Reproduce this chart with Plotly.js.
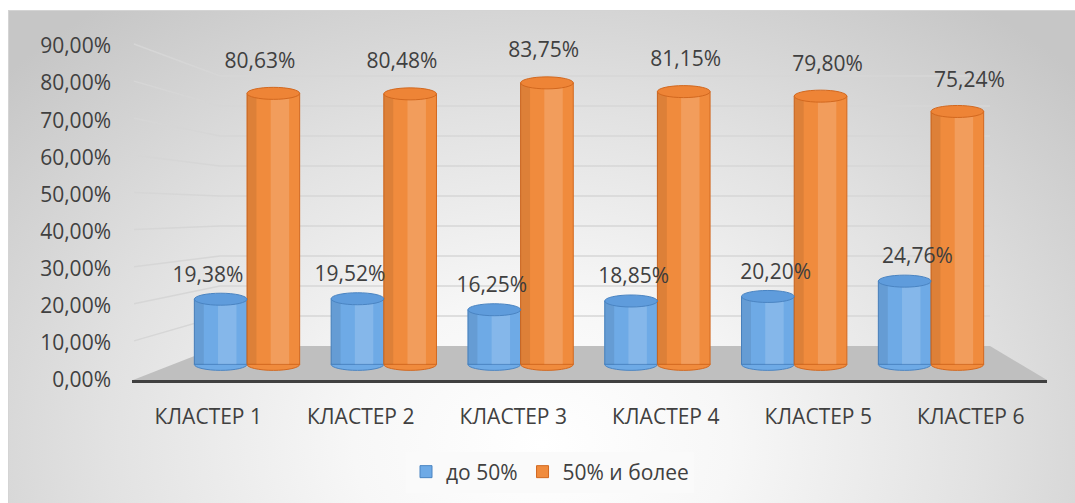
<!DOCTYPE html>
<html>
<head>
<meta charset="utf-8">
<script src="https://cdn.plot.ly/plotly-3.0.1.min.js"></script>
<style>
  html, body { margin: 0; padding: 0; background: #ffffff; }
  #wrap { position: relative; width: 1075px; height: 503px; overflow: hidden; }
  #bg { position: absolute; left: 8px; top: 10px; width: 1067px; height: 493px;
        border-left: 1px solid #d4d4d4; border-top: 1px solid #d4d4d4; box-sizing: border-box;
        background: radial-gradient(ellipse 68% 112% at 50% 88%, #ffffff 0%, #f7f7f7 26%, #e2e2e2 60%, #c6c6c6 100%); }
  #chart { position: absolute; left: 0; top: 0; width: 1075px; height: 503px; }
</style>
</head>
<body>
<div id="wrap"><div id="bg"></div><div id="chart"></div></div>
<script>
// ---- data ----
const categories = ['КЛАСТЕР 1', 'КЛАСТЕР 2', 'КЛАСТЕР 3', 'КЛАСТЕР 4', 'КЛАСТЕР 5', 'КЛАСТЕР 6'];
const seriesNames = ['до 50%', '50% и более'];
const under50 = [19.38, 19.52, 16.25, 18.85, 20.20, 24.76];
const over50 = [80.63, 80.48, 83.75, 81.15, 79.80, 75.24];
const yTicks = [0, 10, 20, 30, 40, 50, 60, 70, 80, 90];

// ---- geometry (pixels) ----
const W = 1075, H = 503;
const L = 132, R = 1047, T = 46, B = 381;
const PW = R - L, PH = B - T;

function xRange(pxAt0, pxPerUnit) { const r0 = -(pxAt0 - L) / pxPerUnit; return [r0, r0 + PW / pxPerUnit]; }
function yRange(pxAt0, pxPerUnit) { const s0 = -(B - pxAt0) / pxPerUnit; return [s0, s0 + PH / pxPerUnit]; }
const px2paperX = p => (p - L) / PW;
const px2paperY = p => (B - p) / PH;

const barX = xRange(247, 136.8);     // front row of cylinders
const barY = yRange(365.3, 3.371);
const lblX = xRange(234, 141.9);     // data label plane
const lblY = yRange(344.8, 3.5);
const backY = v => 347 - v * 3.011;  // back wall gridlines (px)
const labelYpx = v => B - v * PH / 90;

const bargap = 0.23;
const bw = (1 - bargap) / 2;
const idx = categories.map((_, i) => i);
const fmt = v => v.toFixed(2).replace('.', ',') + '%';

const blue = '#6eaae6', blueLine = '#4a84c2', blueTop = '#5f9cdc';
const orange = '#f08b3d', orangeLine = '#d2681f', orangeTop = '#ee8436';
const textColor = '#404040';
const FONT = '"Open Sans", "DejaVu Sans", sans-serif';

const traces = [
  // invisible anchor trace for the category / percent axes
  { type: 'scatter', mode: 'markers', x: idx, y: under50, xaxis: 'x', yaxis: 'y',
    marker: { opacity: 0, size: 1 }, showlegend: false, hoverinfo: 'skip' },
  { type: 'bar', name: seriesNames[0], x: idx, y: under50, xaxis: 'x2', yaxis: 'y2',
    marker: { color: blue, line: { color: blueLine, width: 1 } }, hoverinfo: 'y+name' },
  { type: 'bar', name: seriesNames[1], x: idx, y: over50, xaxis: 'x2', yaxis: 'y2',
    marker: { color: orange, line: { color: orangeLine, width: 1 } }, hoverinfo: 'y+name' },
  { type: 'scatter', mode: 'text', x: idx.map(i => i - 0.183), y: under50, xaxis: 'x3', yaxis: 'y3',
    text: under50.map(fmt), textposition: 'middle center', cliponaxis: false,
    textfont: { family: FONT, size: 21, color: textColor }, showlegend: false, hoverinfo: 'skip' },
  { type: 'scatter', mode: 'text', x: idx.map(i => i + 0.183), y: over50, xaxis: 'x3', yaxis: 'y3',
    text: over50.map(fmt), textposition: 'middle center', cliponaxis: false,
    textfont: { family: FONT, size: 21, color: textColor }, showlegend: false, hoverinfo: 'skip' }
];

const shapes = [];
// floor
shapes.push({ type: 'path', xref: 'paper', yref: 'paper', layer: 'below',
  path: `M ${px2paperX(133)} ${px2paperY(381)} L ${px2paperX(220)} ${px2paperY(347)} L ${px2paperX(990)} ${px2paperY(347)} L ${px2paperX(1047)} ${px2paperY(381)} Z`,
  fillcolor: '#bfbfbf', line: { width: 0 } });
// gridlines (front tick position -> back wall)
yTicks.forEach(t => {
  if (t === 0) return;
  shapes.push({ type: 'path', xref: 'paper', yref: 'paper', layer: 'below',
    path: `M ${px2paperX(134)} ${px2paperY(labelYpx(t) - 2)} L ${px2paperX(220)} ${px2paperY(backY(t))} L ${px2paperX(990)} ${px2paperY(backY(t))}`,
    line: { color: '#d6d6d6', width: 1.5 } });
});
// cylinder caps and shading
[[under50, -bw, 0, blue, blueTop, blueLine], [over50, 0, bw, orange, orangeTop, orangeLine]].forEach(([vals, a, b, body, top, rim]) => {
  vals.forEach((v, i) => {
    const w = b - a;
    shapes.push({ type: 'circle', xref: 'x2', yref: 'y2', layer: 'below',
      x0: i + a, x1: i + b, ysizemode: 'pixel', yanchor: 0, y0: -6, y1: 6,
      fillcolor: body, line: { color: rim, width: 1 } });
    shapes.push({ type: 'rect', xref: 'x2', yref: 'y2', layer: 'above',
      x0: i + a + w * 0.45, x1: i + a + w * 0.8, y0: 0, y1: v,
      fillcolor: 'rgba(255,255,255,0.16)', line: { width: 0 } });
    shapes.push({ type: 'rect', xref: 'x2', yref: 'y2', layer: 'above',
      x0: i + a, x1: i + a + w * 0.18, y0: 0, y1: v,
      fillcolor: 'rgba(0,0,0,0.08)', line: { width: 0 } });
    shapes.push({ type: 'circle', xref: 'x2', yref: 'y2', layer: 'above',
      x0: i + a, x1: i + b, ysizemode: 'pixel', yanchor: v, y0: -6, y1: 6,
      fillcolor: top, line: { color: rim, width: 1 } });
  });
});

const layout = {
  width: W, height: H,
  margin: { l: L, r: W - R, t: T, b: H - B, pad: 0 },
  paper_bgcolor: 'rgba(0,0,0,0)', plot_bgcolor: 'rgba(0,0,0,0)',
  separators: ', ',
  font: { family: FONT, size: 21, color: textColor },
  showlegend: true,
  legend: { orientation: 'h', x: px2paperX(550), xanchor: 'center', y: px2paperY(472), yanchor: 'middle',
    bgcolor: '#fafafa', font: { family: FONT, size: 21, color: textColor }, itemwidth: 30, traceorder: 'normal' },
  barmode: 'group', bargap: bargap, bargroupgap: 0,
  xaxis: { range: [-0.5, 5.5], tickvals: idx, ticktext: categories, showgrid: false, zeroline: false,
    showline: true, linecolor: '#404040', linewidth: 3, ticks: '', ticklabelstandoff: 16,
    tickfont: { family: FONT, size: 21, color: textColor }, fixedrange: true },
  yaxis: { range: [0, 90], tickvals: yTicks, ticktext: yTicks.map(fmt), showgrid: false, zeroline: false,
    showline: false, ticks: '', ticklabelstandoff: 20, tickfont: { family: FONT, size: 21, color: textColor }, fixedrange: true },
  xaxis2: { overlaying: 'x', range: barX, visible: false, fixedrange: true },
  yaxis2: { overlaying: 'y', range: barY, visible: false, fixedrange: true },
  xaxis3: { overlaying: 'x', range: lblX, visible: false, fixedrange: true },
  yaxis3: { overlaying: 'y', range: lblY, visible: false, fixedrange: true },
  shapes: shapes
};

Plotly.newPlot('chart', traces, layout, { displayModeBar: false, staticPlot: true });
</script>
</body>
</html>
